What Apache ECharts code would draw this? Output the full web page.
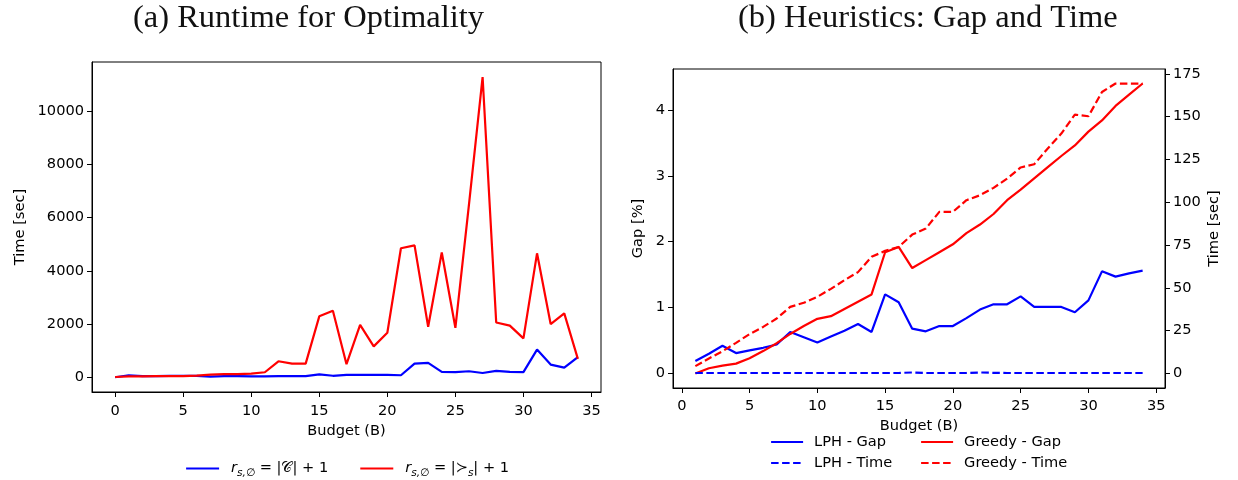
<!DOCTYPE html>
<html>
<head>
<meta charset="utf-8">
<script src="https://cdn.jsdelivr.net/npm/echarts@6/dist/echarts.min.js"></script>
<style>
  html, body { margin: 0; padding: 0; background: #fff; }
  #chart { width: 1238px; height: 480px; }
</style>
</head>
<body>
<div id="chart"></div>
<script>
// Panel (a): solve time of the exact model per budget
const budgetA = [0, 1, 2, 3, 4, 5, 6, 7, 8, 9, 10, 11, 12, 13, 14, 15, 16, 17, 18, 19, 20, 21, 22, 23, 24, 25, 26, 27, 28, 29, 30, 31, 32, 33, 34];
const timeClassBound = [0, 75, 40, 40, 50, 50, 50, 25, 40, 40, 30, 30, 40, 40, 40, 105, 55, 90, 90, 90, 90, 75, 510, 540, 200, 190, 225, 160, 240, 200, 190, 1040, 475, 360, 760];
const timePrefBound = [10, 30, 30, 40, 45, 40, 60, 95, 115, 115, 135, 188, 600, 513, 513, 2290, 2500, 490, 1970, 1160, 1675, 4850, 4960, 1900, 4690, 1860, 6500, 11290, 2060, 1940, 1460, 4660, 2000, 2400, 690];

// Panel (b): heuristic gap (%) and time (sec) per budget
const budgetB = [1, 2, 3, 4, 5, 6, 7, 8, 9, 10, 11, 12, 13, 14, 15, 16, 17, 18, 19, 20, 21, 22, 23, 24, 25, 26, 27, 28, 29, 30, 31, 32, 33, 34];
const lphGap = [0.19, 0.30, 0.42, 0.31, 0.35, 0.39, 0.44, 0.63, 0.55, 0.47, 0.56, 0.65, 0.75, 0.63, 1.20, 1.08, 0.68, 0.64, 0.72, 0.72, 0.84, 0.97, 1.05, 1.05, 1.17, 1.01, 1.01, 1.01, 0.93, 1.11, 1.55, 1.47, 1.52, 1.56];
const greedyGap = [0.00, 0.08, 0.12, 0.15, 0.23, 0.34, 0.46, 0.60, 0.72, 0.83, 0.87, 0.98, 1.09, 1.20, 1.84, 1.92, 1.60, 1.72, 1.84, 1.96, 2.13, 2.26, 2.42, 2.63, 2.79, 2.96, 3.13, 3.30, 3.46, 3.67, 3.84, 4.06, 4.23, 4.40];
const lphTime = [0.3, 0.3, 0.3, 0.3, 0.3, 0.3, 0.3, 0.3, 0.3, 0.3, 0.3, 0.3, 0.3, 0.3, 0.3, 0.3, 0.6, 0.3, 0.3, 0.3, 0.3, 0.6, 0.4, 0.3, 0.3, 0.3, 0.3, 0.3, 0.3, 0.3, 0.3, 0.3, 0.3, 0.3];
const greedyTime = [4.3, 8.8, 13.0, 17.9, 23.0, 27.2, 32.1, 38.9, 41.3, 44.8, 49.4, 54.5, 59.2, 68.1, 71.6, 73.9, 81.1, 84.6, 94.4, 94.4, 101.2, 104.1, 108.4, 113.8, 120.3, 122.2, 131.4, 140.1, 151.2, 150.2, 164.4, 169.3, 169.3, 169.3];

// Tick positions
const ticksBudget = [0, 5, 10, 15, 20, 25, 30, 35];
const ticksTimeA = [0, 2000, 4000, 6000, 8000, 10000];
const ticksGap = [0, 1, 2, 3, 4];
const ticksTimeB = [0, 25, 50, 75, 100, 125, 150, 175];

const BLUE = '#0000ff';
const RED = '#ff0000';
const SANS = 'DejaVu Sans';
const FS = 14.6;

function pairs(xs, ys) { return xs.map((x, i) => [x, ys[i]]); }

function valueAxis(extra, labelMargin) {
  const base = {
    type: 'value',
    splitLine: { show: false },
    axisLine: { show: true, onZero: false, lineStyle: { color: '#000', width: 1 } },
    axisTick: { show: true, inside: false, length: 5, lineStyle: { color: '#000', width: 1 } },
    axisLabel: { color: '#000', fontFamily: SANS, fontSize: FS, margin: labelMargin, formatter: v => String(v) },
    nameTextStyle: { color: '#000', fontFamily: SANS, fontSize: FS },
    nameLocation: 'middle'
  };
  const out = Object.assign({}, base, extra);
  if (extra.customValues) {
    out.axisTick = Object.assign({}, base.axisTick, { customValues: extra.customValues });
    out.axisLabel = Object.assign({}, base.axisLabel, { customValues: extra.customValues });
    delete out.customValues;
  }
  return out;
}

function lineSeries(name, xi, yi, data, color, dashed) {
  return {
    name: name, type: 'line', xAxisIndex: xi, yAxisIndex: yi,
    data: data, symbol: 'none', showSymbol: false, silent: true,
    lineStyle: { color: color, width: 2.2, type: dashed ? [7.5, 3.5] : 'solid' },
    itemStyle: { color: color }
  };
}

const NAME_C = 'rC';
const NAME_S = 'rS';

const legendRich = {
  i: { fontFamily: SANS, fontStyle: 'italic', fontSize: FS, lineHeight: 20, color: '#000' },
  sub: { fontFamily: SANS, fontStyle: 'italic', fontSize: 10.5, lineHeight: 12, verticalAlign: 'bottom', color: '#000' },
  n: { fontFamily: SANS, fontSize: FS, lineHeight: 20, color: '#000' },
  cal: { fontFamily: SANS, fontSize: FS, lineHeight: 20, color: '#000' }
};

const legendCommon = {
  padding: 0,
  itemStyle: { opacity: 0, borderWidth: 0 },
  lineStyle: { width: 2.2 }
};

const option = {
  animation: false,
  backgroundColor: '#fff',
  grid: [
    { left: 92, right: 637, top: 62, bottom: 88, show: true, borderColor: '#000', borderWidth: 1, backgroundColor: 'transparent' },
    { left: 673, right: 73, top: 69, bottom: 92, show: true, borderColor: '#000', borderWidth: 1, backgroundColor: 'transparent' }
  ],
  xAxis: [
    valueAxis({ gridIndex: 0, min: -1.7, max: 35.7, customValues: ticksBudget, name: 'Budget (B)', nameGap: 31 }, 12),
    valueAxis({ gridIndex: 1, min: -0.65, max: 35.65, customValues: ticksBudget, name: 'Budget (B)', nameGap: 29 }, 11)
  ],
  yAxis: [
    valueAxis({ gridIndex: 0, min: -555, max: 11855, customValues: ticksTimeA, name: 'Time [sec]', nameGap: 64, nameRotate: 90 }, 8),
    valueAxis({ gridIndex: 1, min: -0.22, max: 4.62, customValues: ticksGap, name: 'Gap [%]', nameGap: 27, nameRotate: 90 }, 8),
    valueAxis({ gridIndex: 1, position: 'right', min: -8.47, max: 177.8, customValues: ticksTimeB, name: 'Time [sec]', nameGap: 42, nameRotate: 90 }, 8)
  ],
  legend: [
    Object.assign({}, legendCommon, {
      data: [NAME_C, NAME_S], orient: 'horizontal', left: 185, top: 461,
      itemWidth: 33, itemHeight: 14, itemGap: 31,
      textStyle: { color: '#000', fontFamily: SANS, fontSize: FS, padding: [0, 0, 0, 7], rich: legendRich },
      formatter: function (name) {
        if (name === NAME_C) return '{i|r}{sub|s,\u2205}{n| = |}{cal|\uD835\uDC9E}{n|| + 1}';
        return '{i|r}{sub|s,\u2205}{n| = |\u227B}{sub|s}{n|| + 1}';
      }
    }),
    Object.assign({}, legendCommon, {
      data: ['LPH - Gap', 'LPH - Time'], orient: 'vertical', left: 770, top: 434,
      itemWidth: 32, itemHeight: 14, itemGap: 5,
      textStyle: { color: '#000', fontFamily: SANS, fontSize: FS, lineHeight: 16, padding: [0, 0, 0, 6] }
    }),
    Object.assign({}, legendCommon, {
      data: ['Greedy - Gap', 'Greedy - Time'], orient: 'vertical', left: 920, top: 434,
      itemWidth: 32, itemHeight: 14, itemGap: 5,
      textStyle: { color: '#000', fontFamily: SANS, fontSize: FS, lineHeight: 16, padding: [0, 0, 0, 6] }
    })
  ],
  graphic: [
    { type: 'text', left: 133, top: 2, style: { text: '(a) Runtime for Optimality', fontFamily: 'Liberation Serif', fontSize: 32.5, fill: '#111' } },
    { type: 'text', left: 738, top: 2, style: { text: '(b) Heuristics: Gap and Time', fontFamily: 'Liberation Serif', fontSize: 32.5, fill: '#111' } }
  ],
  series: [
    lineSeries(NAME_C, 0, 0, pairs(budgetA, timeClassBound), BLUE, false),
    lineSeries(NAME_S, 0, 0, pairs(budgetA, timePrefBound), RED, false),
    lineSeries('LPH - Gap', 1, 1, pairs(budgetB, lphGap), BLUE, false),
    lineSeries('Greedy - Gap', 1, 1, pairs(budgetB, greedyGap), RED, false),
    lineSeries('LPH - Time', 1, 2, pairs(budgetB, lphTime), BLUE, true),
    lineSeries('Greedy - Time', 1, 2, pairs(budgetB, greedyTime), RED, true)
  ]
};

const chart = echarts.init(document.getElementById('chart'), null, { renderer: 'canvas' });
chart.setOption(option);
</script>
</body>
</html>
